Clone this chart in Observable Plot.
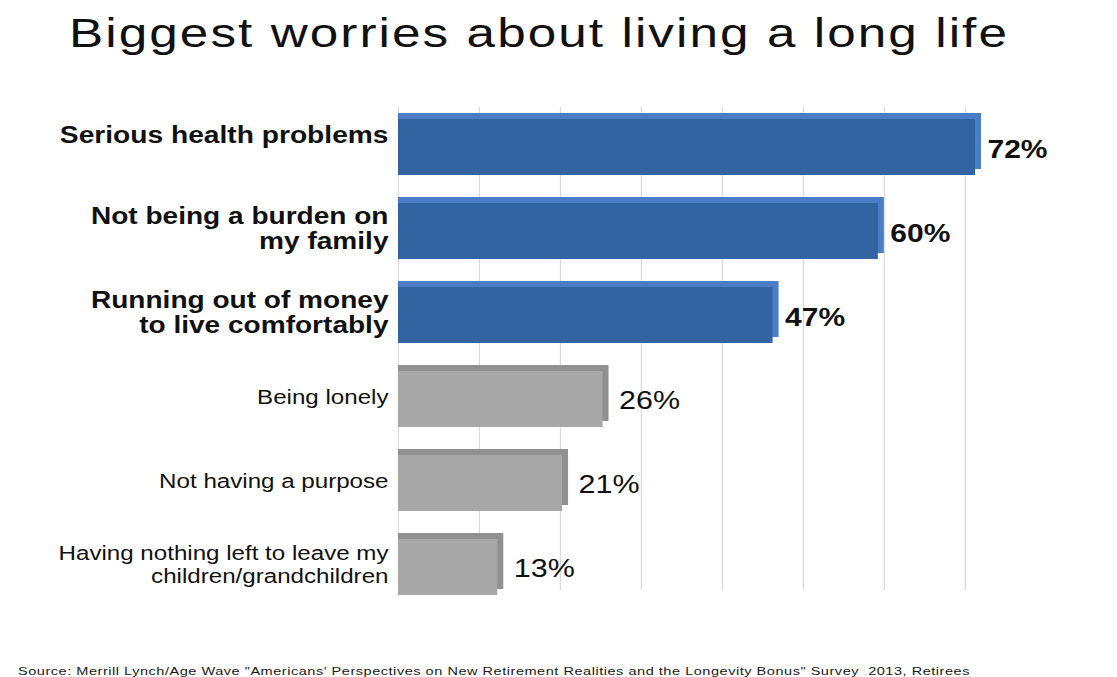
<!DOCTYPE html>
<html>
<head>
<meta charset="utf-8">
<script src="https://cdn.jsdelivr.net/npm/d3@7"></script>
<script src="https://cdn.jsdelivr.net/npm/@observablehq/plot@0.6"></script>
<style>
  html, body { margin: 0; padding: 0; background: #fff; }
  body { position: relative; width: 1117px; height: 677px; overflow: hidden; font-family: "Liberation Sans", Arial, sans-serif; }
  #title { position: absolute; left: 69px; top: 13px; font-size: 41px; line-height: 41px; letter-spacing: 1.65px; color: #111; white-space: nowrap; transform: scaleX(1.25); transform-origin: 0 0; }
  #chart { position: absolute; left: 0; top: 90px; }
  #footer { position: absolute; left: 18px; top: 666px; font-size: 11px; line-height: 11px; letter-spacing: 0.4px; color: #1a1a1a; white-space: nowrap; transform: scaleX(1.32); transform-origin: 0 0; }
  svg { display: block; }
</style>
</head>
<body>
<div id="title">Biggest worries about living a long life</div>
<div id="chart"></div>
<div id="footer">Source: Merrill Lynch/Age Wave "Americans' Perspectives on New Retirement Realities and the Longevity Bonus" Survey&nbsp; 2013, Retirees</div>
<script>
const categories = [
  "Serious health problems",
  "Not being a burden on\nmy family",
  "Running out of money\nto live comfortably",
  "Being lonely",
  "Not having a purpose",
  "Having nothing left to leave my\nchildren/grandchildren"
];
const values = [72, 60, 47, 26, 21, 13];
const highlighted = [true, true, true, false, false, false];
const gridTicks = [0, 10, 20, 30, 40, 50, 60, 70];

const data = categories.map((c, i) => ({category: c, value: values[i], hi: highlighted[i], row: i}));
const hiData = data.filter(d => d.hi);
const loData = data.filter(d => !d.hi);

const chart = Plot.plot({
  width: 1117,
  height: 560,
  marginTop: 17,
  marginBottom: 43,
  marginLeft: 398,
  marginRight: 136,
  style: {fontFamily: "'Liberation Sans', Arial, sans-serif", background: "#fff"},
  x: {domain: [0, 72], axis: null},
  y: {domain: categories, axis: null, paddingInner: 0.328, paddingOuter: 0.112},
  marks: [
    Plot.ruleX(gridTicks, {stroke: "#d9d9d9", strokeWidth: 1.2, insetBottom: 17}),
    // side/top faces (3D effect)
    Plot.rectX(data, {x: "value", y: "category", dy: -6, fill: d => d.hi ? "#4b7dc6" : "#909090"}),
    // front faces
    Plot.rectX(data, {x: "value", y: "category", insetRight: 6, fill: d => d.hi ? "#3264a1" : "#a7a7a7"}),
    // category labels
    Plot.text(hiData.filter(d => d.row === 0), {y: "category", text: "category", frameAnchor: "left", dx: -10, dy: -12, textAnchor: "end", fontSize: 24.5, fontWeight: "bold", fill: "#111"}),
    Plot.text(hiData.filter(d => d.row !== 0), {y: "category", text: "category", frameAnchor: "left", dx: -10, dy: -3, textAnchor: "end", fontSize: 23, fontWeight: "bold", fill: "#111", lineHeight: 1.1}),
    Plot.text(loData, {y: "category", text: "category", frameAnchor: "left", dx: -10, dy: -3, textAnchor: "end", fontSize: 21, fill: "#111", lineHeight: 1.1}),
    // value labels
    Plot.text(hiData, {x: "value", y: "category", text: d => d.value + "%", dx: 6, dy: 2, textAnchor: "start", fontSize: 25, fontWeight: "bold", fill: "#111"}),
    Plot.text(loData, {x: "value", y: "category", text: d => d.value + "%", dx: 10, dy: 1, textAnchor: "start", fontSize: 26.5, fill: "#111"})
  ]
});
// widen the glyphs horizontally, as in the reference
const textGroups = chart.querySelectorAll('g[aria-label="text"]');
const stretch = [1.15, 1.22, 1.15, 1.2, 1.15];
textGroups.forEach((g, i) => {
  g.querySelectorAll("text").forEach(t => {
    const tr = t.getAttribute("transform") || "";
    t.setAttribute("transform", tr + ` scale(${stretch[i] || 1},1)`);
  });
});
document.getElementById("chart").append(chart);
</script>
</body>
</html>
